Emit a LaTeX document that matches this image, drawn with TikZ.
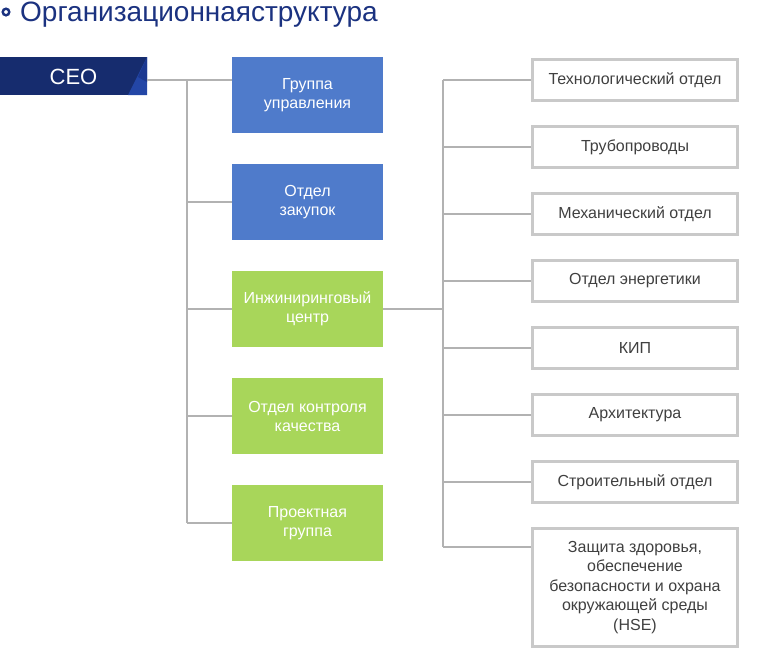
\documentclass[tikz,border=0pt]{standalone}
\usepackage{fontspec}
\setmainfont{Liberation Sans}
\definecolor{titlec}{HTML}{1B3280}
\definecolor{navy}{HTML}{162C6E}
\definecolor{tri1}{HTML}{2346A6}
\definecolor{tri2}{HTML}{1B3890}
\definecolor{bluebox}{HTML}{4F7BCB}
\definecolor{greenbox}{HTML}{A8D65A}
\definecolor{linec}{HTML}{B2B2B2}
\definecolor{borderc}{HTML}{C9C9C9}
\definecolor{textc}{HTML}{404040}
\begin{document}
\begin{tikzpicture}[x=1pt,y=-1pt,
  conn/.style={draw=linec,line width=1.3pt},
  leftbox/.style={minimum width=151pt,minimum height=76pt,inner sep=0pt,text=white,align=center,font=\fontsize{16}{19}\selectfont},
  bluestyle/.style={leftbox,fill=bluebox},
  greenstyle/.style={leftbox,fill=greenbox},
  rightbox/.style={draw=borderc,line width=3pt,fill=white,minimum width=205pt,minimum height=41pt,inner sep=0pt,text=textc,align=center,font=\fontsize{16}{19.5}\selectfont}
]
\useasboundingbox (0,0) rectangle (760,657);
% title
\draw[titlec,line width=2.4pt] (6,12) circle (3.3pt);
\node[anchor=base west,inner sep=0pt,text=titlec,font=\fontsize{28}{32}\selectfont] (title) at (20,21) {Организационнаяструктура};
% CEO bar
\fill[navy] (0,57) rectangle (147,95);
\fill[tri1] (147,57) -- (147,95) -- (128,95) -- cycle;
\fill[tri2] (147,57) -- (138,77) -- (147,82) -- cycle;
\node[inner sep=0pt,minimum width=147pt,minimum height=38pt,text=white,font=\fontsize{22}{26}\selectfont] (ceo) at (73.5,77) {CEO};
% left boxes
\node[bluestyle] (g1) at (307.5,95) {Группа\\управления};
\node[bluestyle] (g2) at (307.5,202) {Отдел\\закупок};
\node[greenstyle] (g3) at (307.5,309) {Инжиниринговый\\центр};
\node[greenstyle] (g4) at (307.5,416) {Отдел контроля\\качества};
\node[greenstyle] (g5) at (307.5,523) {Проектная\\группа};
% right boxes
\node[rightbox] (r1) at (635,80) {Технологический отдел};
\node[rightbox] (r2) at (635,147) {Трубопроводы};
\node[rightbox] (r3) at (635,214) {Механический отдел};
\node[rightbox] (r4) at (635,281) {Отдел энергетики};
\node[rightbox] (r5) at (635,348) {КИП};
\node[rightbox] (r6) at (635,415) {Архитектура};
\node[rightbox] (r7) at (635,482) {Строительный отдел};
\node[rightbox,minimum height=118pt] (r8) at (635,587.5) {Защита здоровья,\\обеспечение\\безопасности и охрана\\окружающей среды\\(HSE)};
% left connectors
\coordinate (ceoout) at (147,80);
\coordinate (lt) at (187,80);
\coordinate (lb) at (187,523);
\draw[conn] (ceoout) -- (ceoout -| g1.west);
\draw[conn] (lt) -- (lb);
\foreach \n in {g2,g3,g4,g5}{
  \draw[conn] (lt |- \n.west) -- (\n.west);
}
% right connectors
\coordinate (rt) at (443,80);
\coordinate (rb) at (443,547);
\draw[conn] (g3.east) -- (rt |- g3.east);
\draw[conn] (rt) -- (rb);
\foreach \n in {r1,r2,r3,r4,r5,r6,r7}{
  \draw[conn] (rt |- \n.west) -- (\n.west);
}
\draw[conn] (rb) -- (rb -| r8.west);
\end{tikzpicture}
\end{document}
